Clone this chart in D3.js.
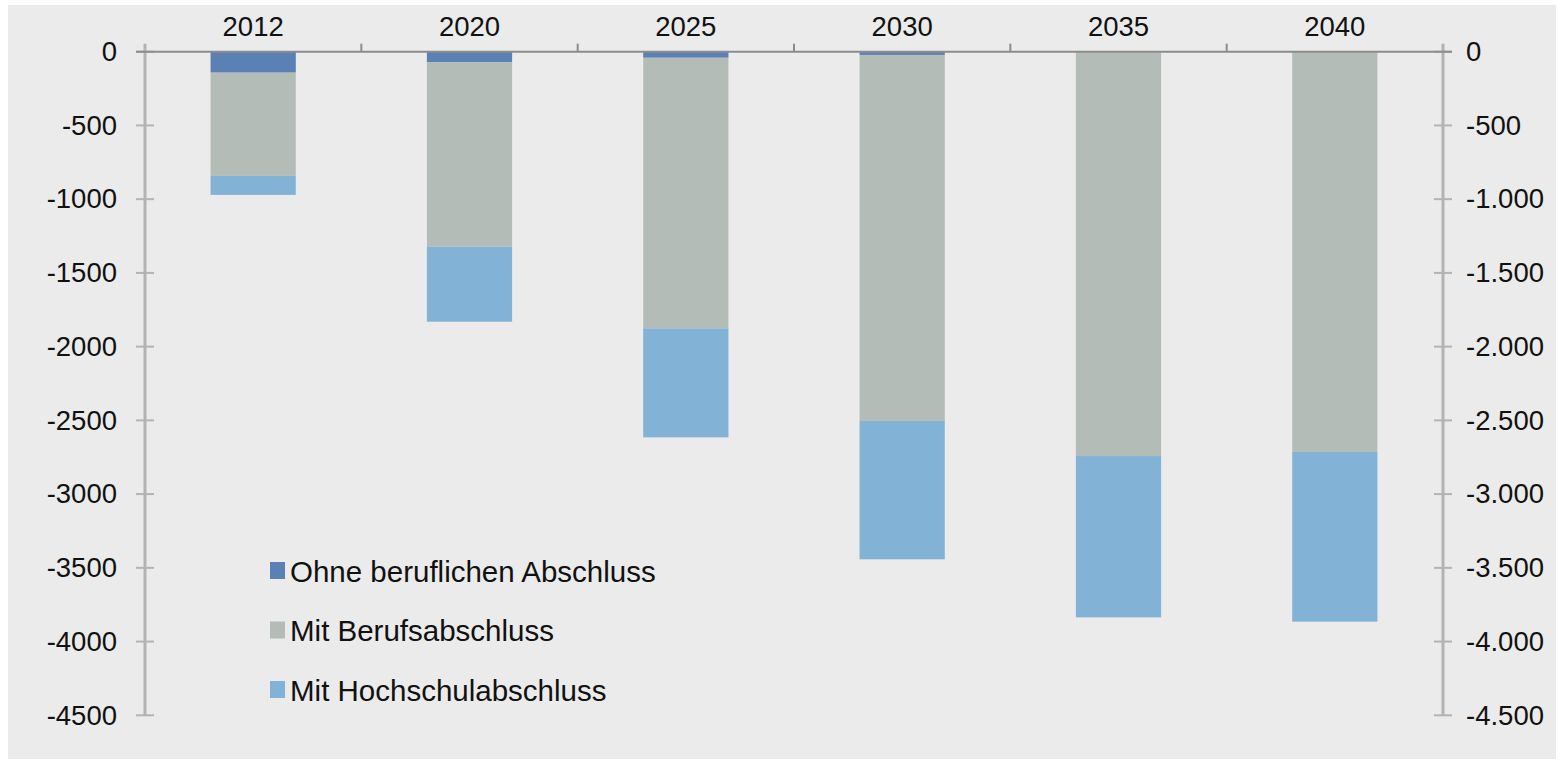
<!DOCTYPE html>
<html>
<head>
<meta charset="utf-8">
<script src="https://cdn.jsdelivr.net/npm/d3@7"></script>
<style>
  html, body { margin: 0; padding: 0; background: #ffffff; }
  svg { display: block; }
  text { font-family: "Liberation Sans", Arial, sans-serif; fill: #111; }
</style>
</head>
<body>
<svg id="chart" width="1563" height="767"></svg>
<script>
// ---- data ----
const categories = ["2012", "2020", "2025", "2030", "2035", "2040"];
const seriesNames = ["Ohne beruflichen Abschluss", "Mit Berufsabschluss", "Mit Hochschulabschluss"];
const ohneAbschluss = [-142, -72, -41, -22, 0, 0];
const berufsAbschluss = [-700, -1250, -1835, -2482, -2742, -2714];
const hochschulAbschluss = [-129, -509, -739, -938, -1094, -1151];
const yTicks = [0, -500, -1000, -1500, -2000, -2500, -3000, -3500, -4000, -4500];
const leftTickLabels = ["0", "-500", "-1000", "-1500", "-2000", "-2500", "-3000", "-3500", "-4000", "-4500"];
const rightTickLabels = ["0", "-500", "-1.000", "-1.500", "-2.000", "-2.500", "-3.000", "-3.500", "-4.000", "-4.500"];
const colors = ["#5b80b3", "#b4bcb8", "#82b3d6"];

// ---- layout ----
const svg = d3.select("#chart");
const plotLeft = 145, plotRight = 1443, plotTop = 51.7, plotBottom = 715.3;

svg.append("rect").attr("x", 8).attr("y", 5).attr("width", 1548).attr("height", 754).attr("fill", "#ebebeb");

const x = d3.scaleBand().domain(categories).range([plotLeft, plotRight]).paddingInner(0.606).paddingOuter(0.303);
const y = d3.scaleLinear().domain([0, -4500]).range([plotTop, plotBottom]);

const rows = categories.map((c, i) => ({ cat: c, s0: -ohneAbschluss[i], s1: -berufsAbschluss[i], s2: -hochschulAbschluss[i] }));
const stack = d3.stack().keys(["s0", "s1", "s2"]);
const stacked = stack(rows);

const axisColor = "#b3b3b3";
const fontFam = "Liberation Sans, Arial, sans-serif";

const leftAxis = d3.axisLeft(y).tickValues(yTicks).tickFormat((d, i) => leftTickLabels[i]).tickSize(0).tickPadding(28);
const gL = svg.append("g").attr("transform", `translate(${plotLeft},0)`).call(leftAxis);
gL.select(".domain").remove();
gL.selectAll("text").style("font-size", "27.5px").style("font-family", fontFam).attr("fill", "#111");

const rightAxis = d3.axisRight(y).tickValues(yTicks).tickFormat((d, i) => rightTickLabels[i]).tickSize(0).tickPadding(23);
const gR = svg.append("g").attr("transform", `translate(${plotRight},0)`).call(rightAxis);
gR.select(".domain").remove();
gR.selectAll("text").style("font-size", "27.5px").style("font-family", fontFam).attr("fill", "#111");

// axis lines
[plotLeft, plotRight].forEach(px => {
  svg.append("line").attr("x1", px).attr("x2", px).attr("y1", plotTop - 8).attr("y2", plotBottom)
    .attr("stroke", axisColor).attr("stroke-width", 3);
  svg.selectAll(null).data(yTicks).enter().append("line")
    .attr("x1", px - 9).attr("x2", px + 9)
    .attr("y1", d => y(d)).attr("y2", d => y(d))
    .attr("stroke", axisColor).attr("stroke-width", 2);
});

// bars
svg.append("g").selectAll("g").data(stacked).enter().append("g")
  .attr("fill", (d, i) => colors[i])
  .selectAll("rect").data(d => d).enter().append("rect")
  .attr("x", d => x(d.data.cat))
  .attr("width", x.bandwidth())
  .attr("y", d => y(-d[0]))
  .attr("height", d => y(-d[1]) - y(-d[0]));

// category axis at zero
const topAxis = d3.axisTop(x).tickSize(0).tickPadding(16);
const gT = svg.append("g").attr("transform", `translate(0,${y(0)})`).call(topAxis);
gT.select(".domain").remove();
gT.selectAll("text").style("font-size", "27.5px").style("font-family", fontFam).attr("fill", "#111");
svg.append("line").attr("x1", plotLeft - 9).attr("x2", plotRight + 9).attr("y1", y(0)).attr("y2", y(0))
  .attr("stroke", "#8c8c8c").attr("stroke-width", 2);
const boundaries = categories.slice(1).map(c => x(c) - x.step() * x.paddingInner() / 2);
svg.selectAll(null).data(boundaries).enter().append("line")
  .attr("x1", d => d).attr("x2", d => d).attr("y1", y(0)).attr("y2", y(0) - 8)
  .attr("stroke", "#8c8c8c").attr("stroke-width", 2);

// legend
const legend = svg.append("g").attr("transform", "translate(270,562)");
seriesNames.forEach((name, i) => {
  const g = legend.append("g").attr("transform", `translate(0,${i * 59.5})`);
  g.append("rect").attr("width", 15).attr("height", 17).attr("fill", colors[i]);
  g.append("text").attr("x", 20).attr("y", 19.5).style("font-size", "29.5px").text(name);
});
</script>
</body>
</html>
